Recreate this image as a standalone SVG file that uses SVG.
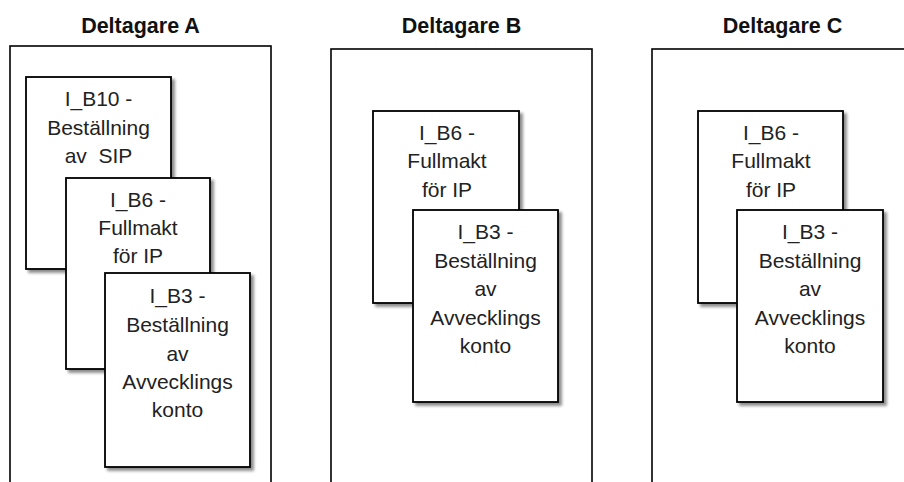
<svg xmlns="http://www.w3.org/2000/svg" width="904" height="482" viewBox="0 0 904 482">
<defs>
<filter id="sh" x="-10%" y="-10%" width="130%" height="130%">
<feDropShadow dx="3" dy="3" stdDeviation="1.6" flood-color="#000" flood-opacity="0.45"/>
</filter>
</defs>
<style>
.panel{fill:#fff;stroke:#000;stroke-width:1.6}
.doc{fill:#fff;stroke:#000;stroke-width:1.8;filter:url(#sh)}
.title{font-family:"Liberation Sans",Arial,sans-serif;font-weight:bold;font-size:21.5px;fill:#111;text-anchor:middle}
.t{font-family:"Liberation Sans",Arial,sans-serif;font-size:21px;fill:#222;text-anchor:middle;white-space:pre}
</style>
<rect width="904" height="482" fill="#fff"/>
<g id="panelA">
<text class="title" x="140.5" y="33">Deltagare A</text>
<rect class="panel" x="10" y="46" width="261" height="460"/>
</g>
<g id="panelB">
<text class="title" x="461.5" y="33">Deltagare B</text>
<rect class="panel" x="331" y="49" width="261" height="460"/>
</g>
<g id="panelC">
<text class="title" x="782.5" y="33">Deltagare C</text>
<rect class="panel" x="652" y="49" width="261" height="460"/>
</g>
<g id="A_B10">
<rect class="doc" x="26" y="77" width="145" height="192"/>
<text class="t" x="98.5" y="106">I_B10 -</text>
<text class="t" x="98.5" y="135">Beställning</text>
<text class="t" x="98.5" y="163" xml:space="preserve">av  SIP</text>
</g>
<g id="A_B6">
<rect class="doc" x="66" y="178" width="144" height="191"/>
<text class="t" x="138" y="207">I_B6 -</text>
<text class="t" x="138" y="235">Fullmakt</text>
<text class="t" x="138" y="263">för IP</text>
</g>
<g id="A_B3">
<rect class="doc" x="105" y="273" width="145" height="194"/>
<text class="t" x="177.5" y="303">I_B3 -</text>
<text class="t" x="177.5" y="332">Beställning</text>
<text class="t" x="177.5" y="361">av</text>
<text class="t" x="177.5" y="389">Avvecklings</text>
<text class="t" x="177.5" y="417">konto</text>
</g>
<g id="B_B6">
<rect class="doc" x="373" y="111" width="146" height="192"/>
<text class="t" x="447" y="140">I_B6 -</text>
<text class="t" x="447" y="168">Fullmakt</text>
<text class="t" x="447" y="197">för IP</text>
</g>
<g id="B_B3">
<rect class="doc" x="413" y="210" width="145" height="192"/>
<text class="t" x="485.5" y="239">I_B3 -</text>
<text class="t" x="485.5" y="268">Beställning</text>
<text class="t" x="485.5" y="296">av</text>
<text class="t" x="485.5" y="325">Avvecklings</text>
<text class="t" x="485.5" y="353">konto</text>
</g>
<g id="C_B6">
<rect class="doc" x="698" y="111" width="145" height="192"/>
<text class="t" x="771" y="140">I_B6 -</text>
<text class="t" x="771" y="168">Fullmakt</text>
<text class="t" x="771" y="197">för IP</text>
</g>
<g id="C_B3">
<rect class="doc" x="737" y="210" width="146" height="192"/>
<text class="t" x="810" y="239">I_B3 -</text>
<text class="t" x="810" y="268">Beställning</text>
<text class="t" x="810" y="296">av</text>
<text class="t" x="810" y="325">Avvecklings</text>
<text class="t" x="810" y="353">konto</text>
</g>
<g id="connectors"/>
</svg>
